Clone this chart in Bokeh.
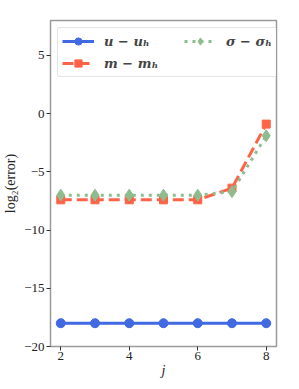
from bokeh.plotting import figure
from bokeh.models import Legend, LegendItem, Range1d, FixedTicker
from bokeh.embed import file_html
from bokeh.resources import INLINE

j = [2, 3, 4, 5, 6, 7, 8]
err_u = [-18.0, -18.0, -18.0, -18.0, -18.0, -18.0, -18.0]
err_m = [-7.4, -7.4, -7.4, -7.4, -7.4, -6.4, -0.9]
err_sigma = [-7.0, -7.0, -7.0, -7.0, -7.0, -6.7, -1.9]
xticks = [2, 4, 6, 8]
yticks = [-20, -15, -10, -5, 0, 5]

p = figure(width=291, height=381, output_backend="svg", toolbar_location=None,
           x_range=Range1d(1.7, 8.3), y_range=Range1d(-20, 8),
           min_border_left=40, min_border_right=15, min_border_top=20, min_border_bottom=35)
p.grid.visible = False
p.outline_line_color = "#9a9a9a"
p.outline_line_width = 1.5
p.background_fill_color = "white"
p.border_fill_color = "white"

blue = "#4169E1"
red = "#FF6347"
green = "#8FBC8F"

lu = p.line(j, err_u, line_color=blue, line_width=3)
mu = p.scatter(j, err_u, marker="circle", size=9, fill_color=blue, line_color=blue)
lm = p.line(j, err_m, line_color=red, line_width=3, line_dash="11 5")
mm = p.scatter(j, err_m, marker="square", size=8, fill_color=red, line_color=red)
ls = p.line(j, err_sigma, line_color=green, line_width=3, line_dash="3 5")
ms = p.scatter(j, err_sigma, marker="diamond", size=12, fill_color=green, line_color=green)

def minus(v):
    return str(v).replace("-", "\u2212")

for ax, ticks in ((p.xaxis, xticks), (p.yaxis, yticks)):
    ax.ticker = FixedTicker(ticks=ticks)
    ax.major_label_overrides = {t: minus(t) for t in ticks}
    ax.major_label_text_font = "Liberation Serif"
    ax.major_label_text_font_size = "13px"
    ax.major_label_text_color = "#222222"
    ax.axis_line_color = None
    ax.major_tick_line_color = "#333333"
    ax.major_tick_out = 4
    ax.major_tick_in = 0
    ax.minor_tick_line_color = None
    ax.axis_label_text_font = "Liberation Serif"
    ax.axis_label_text_font_style = "normal"
    ax.axis_label_text_font_size = "14px"
    ax.axis_label_text_color = "#222222"
    ax.major_label_standoff = 2

p.xaxis.axis_label = "j"
p.xaxis.axis_label_text_font_style = "italic"
p.xaxis.axis_label_standoff = 0
p.xaxis.major_label_standoff = 1
p.yaxis.axis_label = "log\u2082(error)"
p.yaxis.axis_label_standoff = 3

legend = Legend(items=[
    LegendItem(label="u \u2212 u\u2095", renderers=[lu, mu]),
    LegendItem(label="m \u2212 m\u2095", renderers=[lm, mm]),
    LegendItem(label="\u03c3 \u2212 \u03c3\u2095", renderers=[ls, ms]),
], location="top_left", orientation="vertical", ncols=2)
legend.label_text_font = "DejaVu Serif"
legend.label_text_font_style = "bold italic"
legend.label_text_font_size = "13px"
legend.label_standoff = 10
legend.label_width = 76
legend.glyph_width = 32
legend.glyph_height = 18
legend.spacing = 4
legend.padding = 4
legend.margin = 7
legend.border_line_color = "#cccccc"
legend.border_line_width = 1
legend.border_radius = 3
legend.background_fill_alpha = 0.8
p.add_layout(legend)

open("out.html", "w").write(file_html(p, INLINE))
